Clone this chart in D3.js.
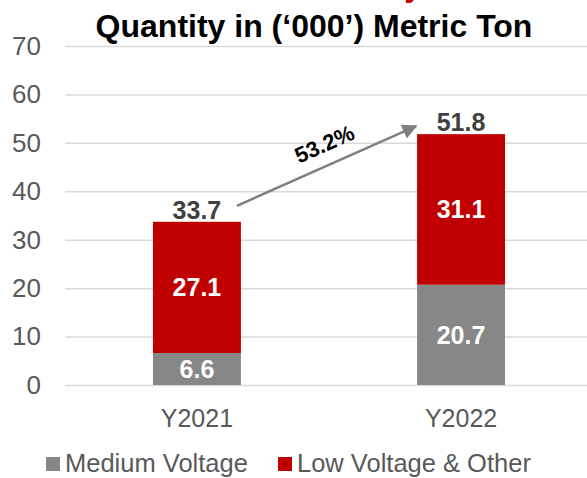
<!DOCTYPE html>
<html>
<head>
<meta charset="utf-8">
<script src="https://cdn.jsdelivr.net/npm/d3@7"></script>
<style>
  body { margin: 0; background: #fff; }
  text { font-family: "Liberation Sans", Arial, sans-serif; }
</style>
</head>
<body>
<script>
// chart data
var years = ["Y2021", "Y2022"];
var mediumVoltage = [6.6, 20.7];
var lowVoltage = [27.1, 31.1];
var totals = [33.7, 51.8];
var growthLabel = "53.2%";
var seriesNames = ["Medium Voltage", "Low Voltage & Other"];
var seriesColors = ["#878787", "#c00000"];
var yTicks = [0, 10, 20, 30, 40, 50, 60, 70];

var width = 587,
    height = 478;

var svg = d3.select("body").append("svg")
    .attr("width", width)
    .attr("height", height);

var x = d3.scaleBand()
    .domain(years)
    .range([65, 593])
    .paddingInner(0.667)
    .paddingOuter(0.333);

var y = d3.scaleLinear()
    .domain([0, 70])
    .range([385, 46]);

// gridlines + y labels
var yAxis = d3.axisLeft(y)
    .tickValues(yTicks)
    .tickSize(-(593 - 65))
    .tickPadding(24)
    .tickFormat(d3.format("d"));

var gy = svg.append("g")
    .attr("transform", "translate(65,0)")
    .call(yAxis);
gy.select(".domain").remove();
gy.selectAll(".tick line")
    .attr("stroke", "#d9d9d9")
    .attr("stroke-width", 1.5);
gy.selectAll(".tick text")
    .attr("fill", "#595959")
    .style("font-size", "26px")
    .style("font-family", "'Liberation Sans', Arial, sans-serif");

// stacked data
var stacked = years.map(function(yr, i) {
    return [
        {year: yr, y0: 0, y1: mediumVoltage[i], v: mediumVoltage[i], c: seriesColors[0]},
        {year: yr, y0: mediumVoltage[i], y1: mediumVoltage[i] + lowVoltage[i], v: lowVoltage[i], c: seriesColors[1]}
    ];
});
var segs = [].concat.apply([], stacked);

svg.append("g").selectAll("rect")
    .data(segs)
    .enter().append("rect")
    .attr("x", function(d) { return x(d.year); })
    .attr("width", x.bandwidth())
    .attr("y", function(d) { return y(d.y1); })
    .attr("height", function(d) { return y(d.y0) - y(d.y1); })
    .attr("fill", function(d) { return d.c; });

svg.append("g").selectAll("text")
    .data(segs)
    .enter().append("text")
    .attr("x", function(d) { return x(d.year) + x.bandwidth() / 2; })
    .attr("y", function(d) { return (y(d.y0) + y(d.y1)) / 2; })
    .attr("dy", "0.36em")
    .attr("text-anchor", "middle")
    .attr("fill", "#fff")
    .style("font-size", "25px")
    .style("font-weight", "bold")
    .text(function(d) { return d.v.toFixed(1); });

// totals
svg.append("g").selectAll("text")
    .data(totals)
    .enter().append("text")
    .attr("x", function(d, i) { return x(years[i]) + x.bandwidth() / 2; })
    .attr("y", function(d) { return y(d) - 3; })
    .attr("text-anchor", "middle")
    .attr("fill", "#404040")
    .style("font-size", "25px")
    .style("font-weight", "bold")
    .text(function(d) { return d.toFixed(1); });

// growth arrow
svg.append("defs").append("marker")
    .attr("id", "arrow")
    .attr("viewBox", "0 0 10 10")
    .attr("refX", 9)
    .attr("refY", 5)
    .attr("markerWidth", 6)
    .attr("markerHeight", 6)
    .attr("orient", "auto")
    .append("path")
    .attr("d", "M0,0L10,5L0,10Z")
    .attr("fill", "#7f7f7f");

var ax1 = x(years[0]) + x.bandwidth() - 4,
    ay1 = y(totals[0]) - 16,
    ax2 = x(years[1]) - 1,
    ay2 = y(totals[1]) - 8;

svg.append("line")
    .attr("x1", ax1).attr("y1", ay1)
    .attr("x2", ax2).attr("y2", ay2)
    .attr("stroke", "#7f7f7f")
    .attr("stroke-width", 2.5)
    .attr("marker-end", "url(#arrow)");

var ang = Math.atan2(ay2 - ay1, ax2 - ax1) * 180 / Math.PI;
svg.append("text")
    .attr("transform", "translate(" + ((ax1 + ax2) / 2 + 1) + "," + ((ay1 + ay2) / 2 - 15) + ") rotate(" + ang + ")")
    .attr("text-anchor", "middle")
    .attr("fill", "#000")
    .style("font-size", "22px")
    .style("font-weight", "bold")
    .text(growthLabel);

// x labels
svg.append("g").selectAll("text")
    .data(years)
    .enter().append("text")
    .attr("x", function(d) { return x(d) + x.bandwidth() / 2; })
    .attr("y", 427)
    .attr("text-anchor", "middle")
    .attr("fill", "#595959")
    .style("font-size", "25px")
    .text(function(d) { return d; });

// titles (red one is mostly above the canvas, as in the slide)
svg.append("text")
    .attr("x", 422)
    .attr("y", -4)
    .attr("text-anchor", "end")
    .attr("fill", "#c00000")
    .style("font-size", "32px")
    .style("font-weight", "bold")
    .text("Sales Volume by");

svg.append("text")
    .attr("x", 314)
    .attr("y", 37)
    .attr("text-anchor", "middle")
    .attr("fill", "#000")
    .style("font-size", "32px")
    .style("font-weight", "bold")
    .text("Quantity in (\u2018000\u2019) Metric Ton");

// legend
var leg = svg.append("g").attr("transform", "translate(46,464)");
var legX = [0, 232];
var li = leg.selectAll("g")
    .data(seriesNames)
    .enter().append("g")
    .attr("transform", function(d, i) { return "translate(" + legX[i] + ",0)"; });
li.append("rect")
    .attr("x", 0).attr("y", -7)
    .attr("width", 14).attr("height", 14)
    .attr("fill", function(d, i) { return seriesColors[i]; });
li.append("text")
    .attr("x", 19)
    .attr("dy", "0.33em")
    .attr("fill", "#595959")
    .style("font-size", "25.5px")
    .text(function(d) { return d; });
</script>
</body>
</html>
